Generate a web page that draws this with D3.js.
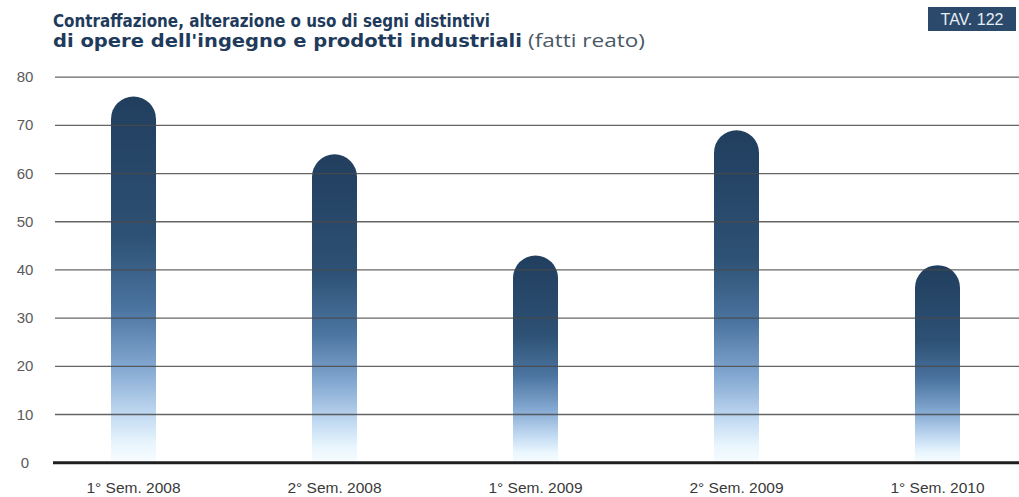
<!DOCTYPE html>
<html><head><meta charset="utf-8">
<script src="https://cdn.jsdelivr.net/npm/d3@7"></script>
<style>
html,body{margin:0;padding:0;background:#fff;}
svg{display:block;}
</style></head>
<body>
<svg id="chart" width="1019" height="497"></svg>
<script>
const categories = ["1° Sem. 2008", "2° Sem. 2008", "1° Sem. 2009", "2° Sem. 2009", "1° Sem. 2010"];
const values = [76, 64, 43, 69, 41];
const yTicks = [0, 10, 20, 30, 40, 50, 60, 70, 80];
const titleLine1 = "Contraffazione, alterazione o uso di segni distintivi";
const titleLine2 = "di opere dell'ingegno e prodotti industriali";
const titleNote = "(fatti reato)";
const tableTag = "TAV. 122";

const svg = d3.select("#chart");
const plotLeft = 55, plotRight = 1019;
const y = d3.scaleLinear().domain([0, 80]).range([462.7, 77.2]);
const x = d3.scalePoint().domain(categories).range([133.5, 937.5]);
const barW = 45;

// gradient
const defs = svg.append("defs");
const grad = defs.append("linearGradient").attr("id", "barGrad")
  .attr("x1", 0).attr("y1", 0).attr("x2", 0).attr("y2", 1);
[[0, "#213e5e"], [0.38, "#2d5174"], [0.58, "#4b74a0"], [0.74, "#83a8d1"], [0.87, "#c2daf2"], [0.95, "#e9f6fd"], [1, "#f8fcff"]]
  .forEach(([o, c]) => grad.append("stop").attr("offset", o).attr("stop-color", c));

// bars
svg.append("g").selectAll("path").data(values).join("path")
  .attr("fill", "url(#barGrad)")
  .attr("d", (v, i) => {
    const cx = x(categories[i]);
    const x0 = cx - barW / 2, x1 = cx + barW / 2;
    const top = y(v), base = y(0), r = barW / 2;
    return `M${x0},${base} L${x0},${top + r} A${r},${r} 0 0 1 ${x1},${top + r} L${x1},${base} Z`;
  });

// gridlines (over bars)
svg.append("g").selectAll("line").data(yTicks.filter(t => t > 0)).join("line")
  .attr("x1", plotLeft).attr("x2", plotRight)
  .attr("y1", d => y(d)).attr("y2", d => y(d))
  .attr("stroke", "#4a4a4a").attr("stroke-opacity", 0.85).attr("stroke-width", 1.3);

// zero line
svg.append("line").attr("x1", plotLeft - 2).attr("x2", plotRight)
  .attr("y1", y(0)).attr("y2", y(0))
  .attr("stroke", "#1e1e1e").attr("stroke-width", 3);

// y labels
svg.append("g").selectAll("text").data(yTicks).join("text")
  .attr("x", 25).attr("y", d => y(d) + 5)
  .attr("text-anchor", "middle")
  .attr("font-family", "Liberation Sans, Arial, sans-serif")
  .attr("font-size", 15).attr("fill", "#5a5a5a")
  .text(d => d);

// x labels
svg.append("g").selectAll("text").data(categories).join("text")
  .attr("x", d => x(d)).attr("y", 493)
  .attr("text-anchor", "middle")
  .attr("font-family", "Liberation Sans, Arial, sans-serif")
  .attr("font-size", 15.5).attr("fill", "#3a3a3a")
  .text(d => d);

// title
const tFont = "'DejaVu Sans', sans-serif";
svg.append("text").attr("x", 53).attr("y", 27)
  .attr("font-family", tFont).attr("font-weight", "bold").attr("font-size", 18.5)
  .attr("fill", "#1f3b5c")
  .attr("textLength", 437).attr("lengthAdjust", "spacingAndGlyphs")
  .text(titleLine1);
svg.append("text").attr("x", 53).attr("y", 47)
  .attr("font-family", tFont).attr("font-weight", "bold").attr("font-size", 18.5)
  .attr("fill", "#1f3b5c")
  .attr("textLength", 469).attr("lengthAdjust", "spacingAndGlyphs")
  .text(titleLine2);
svg.append("text").attr("x", 528).attr("y", 47)
  .attr("font-family", "'Open Sans', 'DejaVu Sans', sans-serif").attr("font-weight", 400).attr("font-size", 18)
  .attr("fill", "#4b5866")
  .attr("textLength", 117).attr("lengthAdjust", "spacingAndGlyphs")
  .text(titleNote);

// tag
svg.append("rect").attr("x", 928).attr("y", 7).attr("width", 88).attr("height", 24)
  .attr("fill", "#2b4a6b");
svg.append("text").attr("x", 972).attr("y", 25)
  .attr("text-anchor", "middle")
  .attr("font-family", "Liberation Sans, Arial, sans-serif")
  .attr("font-size", 16).attr("fill", "#e8eef5")
  .text(tableTag);
</script>
</body></html>
